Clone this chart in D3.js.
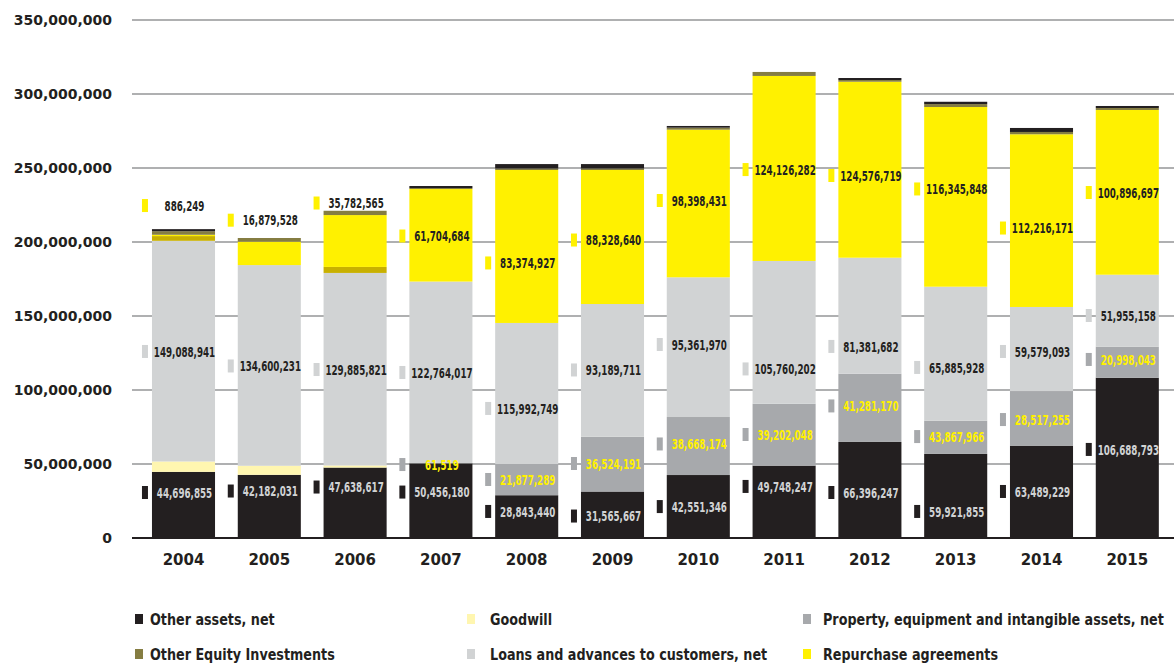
<!DOCTYPE html>
<html>
<head>
<meta charset="utf-8">
<script src="https://cdn.jsdelivr.net/npm/d3@7"></script>
<style>
  html, body { margin: 0; padding: 0; background: #fff; }
  svg { display: block; }
</style>
</head>
<body>
<svg id="chart" width="1174" height="663"></svg>
<script>
// ---------- DATA (values in millions) ----------
const years = ["2004","2005","2006","2007","2008","2009","2010","2011","2012","2013","2014","2015"];
const otherAssets = [44.7, 42.7, 47.6, 50.46, 28.9, 31.4, 42.55, 48.9, 64.9, 56.8, 62.4, 108.3];
const goodwill    = [7.0, 6.1, 1.4, 0, 0, 0, 0, 0, 0, 0, 0, 0];
const property    = [0, 0, 0, 0.06, 21.1, 37.0, 39.2, 41.8, 46.1, 22.5, 36.9, 21.0];
const loans       = [149.1, 135.6, 130.1, 122.76, 95.3, 89.7, 94.4, 96.5, 78.4, 90.5, 56.8, 48.6];
const securities  = [3.2, 0, 4.05, 0, 0, 0, 0, 0, 0, 0, 0, 0];          // unlabelled gold band
const repurchase  = [0.886, 15.8, 35.05, 62.5, 103.35, 90.55, 99.75, 125.0, 118.9, 121.4, 116.7, 111.3];
const otherEquity = [2.4, 2.5, 2.9, 0.7, 1.0, 1.0, 1.35, 2.7, 1.15, 2.0, 1.55, 1.35];
const topBand     = [1.4, 0, 0, 1.35, 3.0, 3.0, 1.15, 0, 1.35, 1.55, 2.7, 1.35];   // unlabelled dark band

const yTicks = [0, 50, 100, 150, 200, 250, 300, 350];

// printed value labels
const repoLabels = ["886,249","16,879,528","35,782,565","61,704,684","83,374,927","88,328,640","98,398,431","124,126,282","124,576,719","116,345,848","112,216,171","100,896,697"];
const loansLabels = ["149,088,941","134,600,231","129,885,821","122,764,017","115,992,749","93,189,711","95,361,970","105,760,202","81,381,682","65,885,928","59,579,093","51,955,158"];
const propertyLabels = [null,null,null,"61,519","21,877,289","36,524,191","38,668,174","39,202,048","41,281,170","43,867,966","28,517,255","20,998,043"];
const otherLabels = ["44,696,855","42,182,031","47,638,617","50,456,180","28,843,440","31,565,667","42,551,346","49,748,247","66,396,247","59,921,855","63,489,229","106,688,793"];
// value (millions) at which each printed label sits
const repoLabelAt     = [224.3, 214.4, 226.0, 203.7, 185.5, 201.0, 227.7, 248.6, 244.6, 235.5, 209.1, 233.1];
const loansLabelAt    = [125.7, 115.9, 113.5, 111.5, 87.2, 113.2, 130.4, 113.9, 129.1, 114.9, 125.7, 150.0];
const propertyLabelAt = [0, 0, 0, 49.3, 39.2, 50.0, 63.2, 69.6, 88.9, 68.2, 79.7, 120.3];
const otherLabelAt    = [30.4, 31.4, 34.1, 30.7, 17.6, 14.5, 20.9, 34.5, 30.4, 17.6, 31.1, 59.5];

// ---------- SETUP ----------
const C = {
  black: "#231f20", goodwill: "#fff6b0", property: "#a7a9ac", loans: "#d1d3d4",
  gold: "#c8b000", repo: "#fff100", olive: "#857d42", grid: "#616264"
};
const keys = ["otherAssets","goodwill","property","loans","securities","repurchase","otherEquity","topBand"];
const colorOf = {
  otherAssets: C.black, goodwill: C.goodwill, property: C.property, loans: C.loans,
  securities: C.gold, repurchase: C.repo, otherEquity: C.olive, topBand: C.black
};
const table = years.map((y, i) => ({
  year: y, otherAssets: otherAssets[i], goodwill: goodwill[i], property: property[i],
  loans: loans[i], securities: securities[i], repurchase: repurchase[i],
  otherEquity: otherEquity[i], topBand: topBand[i]
}));

const svg = d3.select("#chart");
const x = d3.scaleBand().domain(years).range([140.6, 1170.2]).paddingInner(0.265).paddingOuter(0.1325);
const y = d3.scaleLinear().domain([0, 350]).range([538, 20]);

const numFont = "'DejaVu Sans Condensed','DejaVu Sans',sans-serif";
const axisFont = "'DejaVu Sans',sans-serif";

// grid
svg.append("g").selectAll("line").data(yTicks.filter(t => t > 0)).join("line")
  .attr("x1", 132).attr("x2", 1174)
  .attr("y1", d => y(d)).attr("y2", d => y(d))
  .attr("stroke", C.grid).attr("stroke-width", 1.2);

// y tick labels
svg.append("g").selectAll("text").data(yTicks).join("text")
  .attr("x", 112).attr("y", d => y(d)).attr("dy", "0.35em")
  .attr("text-anchor", "end")
  .style("font-family", axisFont).style("font-weight", "bold").style("font-size", "14px")
  .attr("fill", C.black)
  .text(d => d3.format(",")(d * 1e6));

// stacked bars
const stacked = d3.stack().keys(keys)(table);
svg.append("g").selectAll("g").data(stacked).join("g")
  .attr("fill", d => colorOf[d.key])
  .selectAll("rect").data(d => d).join("rect")
  .attr("x", d => x(d.data.year))
  .attr("width", x.bandwidth())
  .attr("y", d => y(d[1]))
  .attr("height", d => Math.max(0, y(d[0]) - y(d[1])));

// baseline
svg.append("line").attr("x1", 132).attr("x2", 1174).attr("y1", y(0)).attr("y2", y(0))
  .attr("stroke", C.black).attr("stroke-width", 2);

// year labels
svg.append("g").selectAll("text").data(years).join("text")
  .attr("x", d => x(d) + x.bandwidth() / 2).attr("y", 560).attr("dy", "0.35em")
  .attr("text-anchor", "middle")
  .style("font-family", axisFont).style("font-weight", "bold").style("font-size", "15px")
  .attr("fill", C.black).text(d => d);

// value labels with markers
const labelSets = [
  { texts: repoLabels, at: repoLabelAt, marker: C.repo, color: C.black },
  { texts: loansLabels, at: loansLabelAt, marker: C.loans, color: C.black },
  { texts: propertyLabels, at: propertyLabelAt, marker: C.property, color: C.repo },
  { texts: otherLabels, at: otherLabelAt, marker: C.black, color: C.loans }
];
const lg = svg.append("g");
labelSets.forEach(set => {
  years.forEach((yr, i) => {
    const t = set.texts[i];
    if (!t) return;
    const cy = y(set.at[i]);
    lg.append("rect").attr("x", x(yr) - 10).attr("y", cy - 7).attr("width", 6).attr("height", 13)
      .attr("fill", set.marker);
    lg.append("text")
      .attr("transform", `translate(${x(yr) + x.bandwidth() / 2 + 1},${cy}) scale(0.72,1)`)
      .attr("dy", "0.35em")
      .attr("text-anchor", "middle")
      .style("font-family", numFont).style("font-weight", "bold").style("font-size", "13.5px")
      .attr("fill", set.color).text(t);
  });
});

// legend
const legendItems = [
  { name: "Other assets, net", color: C.black, col: 0, row: 0 },
  { name: "Goodwill", color: C.goodwill, col: 1, row: 0 },
  { name: "Property, equipment and intangible assets, net", color: C.property, col: 2, row: 0 },
  { name: "Other Equity Investments", color: C.olive, col: 0, row: 1 },
  { name: "Loans and advances to customers, net", color: C.loans, col: 1, row: 1 },
  { name: "Repurchase agreements", color: C.repo, col: 2, row: 1 }
];
const colMarkerX = [135, 467, 803];
const colTextX = [150, 490, 823];
const rowY = [619, 654];
const leg = svg.append("g");
legendItems.forEach(it => {
  leg.append("rect").attr("x", colMarkerX[it.col]).attr("y", rowY[it.row] - 5)
    .attr("width", 8).attr("height", 10).attr("fill", it.color);
  leg.append("text")
    .attr("transform", `translate(${colTextX[it.col]},${rowY[it.row]}) scale(0.86,1)`)
    .attr("dy", "0.35em")
    .style("font-family", numFont).style("font-weight", "bold").style("font-size", "16.5px")
    .attr("fill", C.black).text(it.name);
});
</script>
</body>
</html>
